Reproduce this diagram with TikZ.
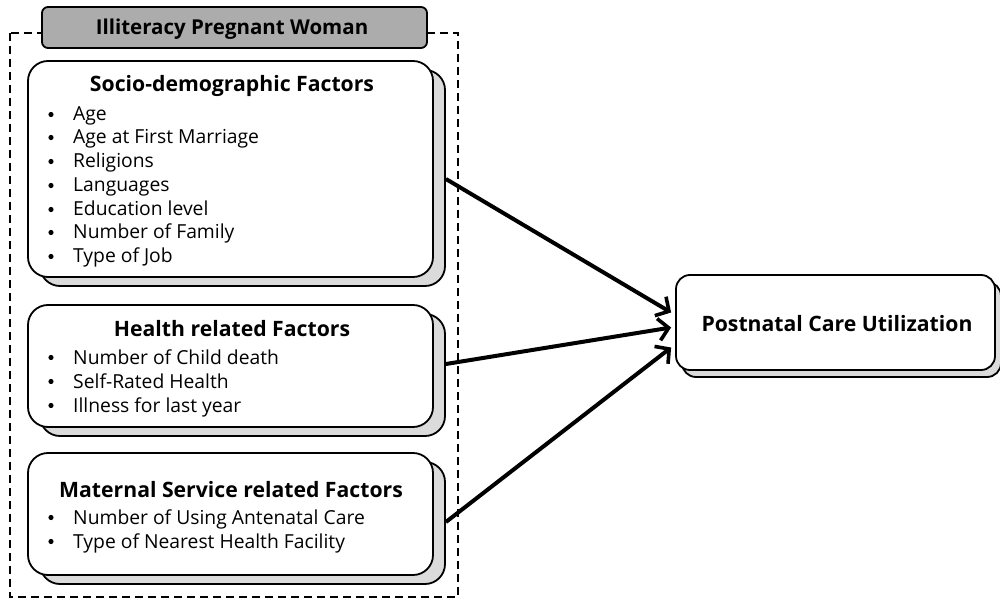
\documentclass[tikz,border=0pt]{standalone}
\usepackage{fontspec}
\setmainfont{Open Sans}
\usetikzlibrary{arrows.meta,shadows,calc}
\newcommand\bitem[3]{%
  \node[item] (#1) at (73,#2) {#3};
  \fill (51,#2-6.5) circle (2.6pt);}
\begin{document}
\begin{tikzpicture}[x=1pt,y=-1pt,
  fbox/.style={draw=black, line width=1.8pt, fill=white, rounded corners=20pt, inner sep=0pt,
    copy shadow={shadow xshift=12pt, shadow yshift=-9pt, fill=gray!28, draw=black, line width=1.8pt}},
  pbox/.style={draw=black, line width=1.8pt, fill=white, rounded corners=14pt, inner sep=0pt,
    copy shadow={shadow xshift=6pt, shadow yshift=-7pt, fill=gray!28, draw=black, line width=1.8pt}},
  tbox/.style={draw=black, line width=1.8pt, fill=gray!65, rounded corners=6pt, inner sep=0pt},
  ttext/.style={font=\fontsize{20.5}{24}\selectfont\bfseries, inner sep=0pt, anchor=base},
  head/.style={font=\fontsize{21.2}{25}\selectfont\bfseries, inner sep=0pt, anchor=base},
  item/.style={font=\fontsize{19.3}{23}\selectfont, inner sep=0pt, anchor=base west},
  arr/.style={line width=4pt, -{Straight Barb[length=10pt,width=22pt,line width=3.6pt]}},
  frame/.style={line width=1.8pt, dash pattern=on 8pt off 5pt}
]
\useasboundingbox (0,0) rectangle (1000,601);
% outer dashed frame
\draw[frame] (10,33) rectangle (458,597);
% title
\node[tbox, minimum width=385pt, minimum height=41pt] (title) at (234.5,27.5) {};
\node[ttext] (titlet) at (232,35) {Illiteracy Pregnant Woman};
% boxes
\node[fbox, minimum width=405pt, minimum height=216pt] (socio) at (230.5,169) {};
\node[fbox, minimum width=405pt, minimum height=122pt] (health) at (230.5,366) {};
\node[fbox, minimum width=405pt, minimum height=122pt] (mat) at (230.5,514) {};
\node[pbox, minimum width=319pt, minimum height=95pt] (post) at (835.5,322.5) {};
% texts
\node[head] (sociot) at (232,92) {Socio-demographic Factors};
\bitem{s1}{121}{Age}
\bitem{s2}{144}{Age at First Marriage}
\bitem{s3}{168}{Religions}
\bitem{s4}{192}{Languages}
\bitem{s5}{216}{Education level}
\bitem{s6}{239}{Number of Family}
\bitem{s7}{263}{Type of Job}
\node[head] (healtht) at (232,336) {Health related Factors};
\bitem{h1}{364}{Number of Child death}
\bitem{h2}{388}{Self-Rated Health}
\bitem{h3}{412}{Illness for last year}
\node[head] (matt) at (231,497) {Maternal Service related Factors};
\bitem{m1}{524}{Number of Using Antenatal Care}
\bitem{m2}{548}{Type of Nearest Health Facility}
\node[head] (postt) at (837,331) {Postnatal Care Utilization};
% arrows
\draw[arr] ($(socio.east)+(12,10)$) -- ($(post.west)+(-4,-10)$);
\draw[arr] ($(health.east)+(12,-2)$) -- ($(post.west)+(-4,5)$);
\draw[arr] ($(mat.east)+(12,8)$) -- ($(post.west)+(-4,25)$);
\end{tikzpicture}
\end{document}
